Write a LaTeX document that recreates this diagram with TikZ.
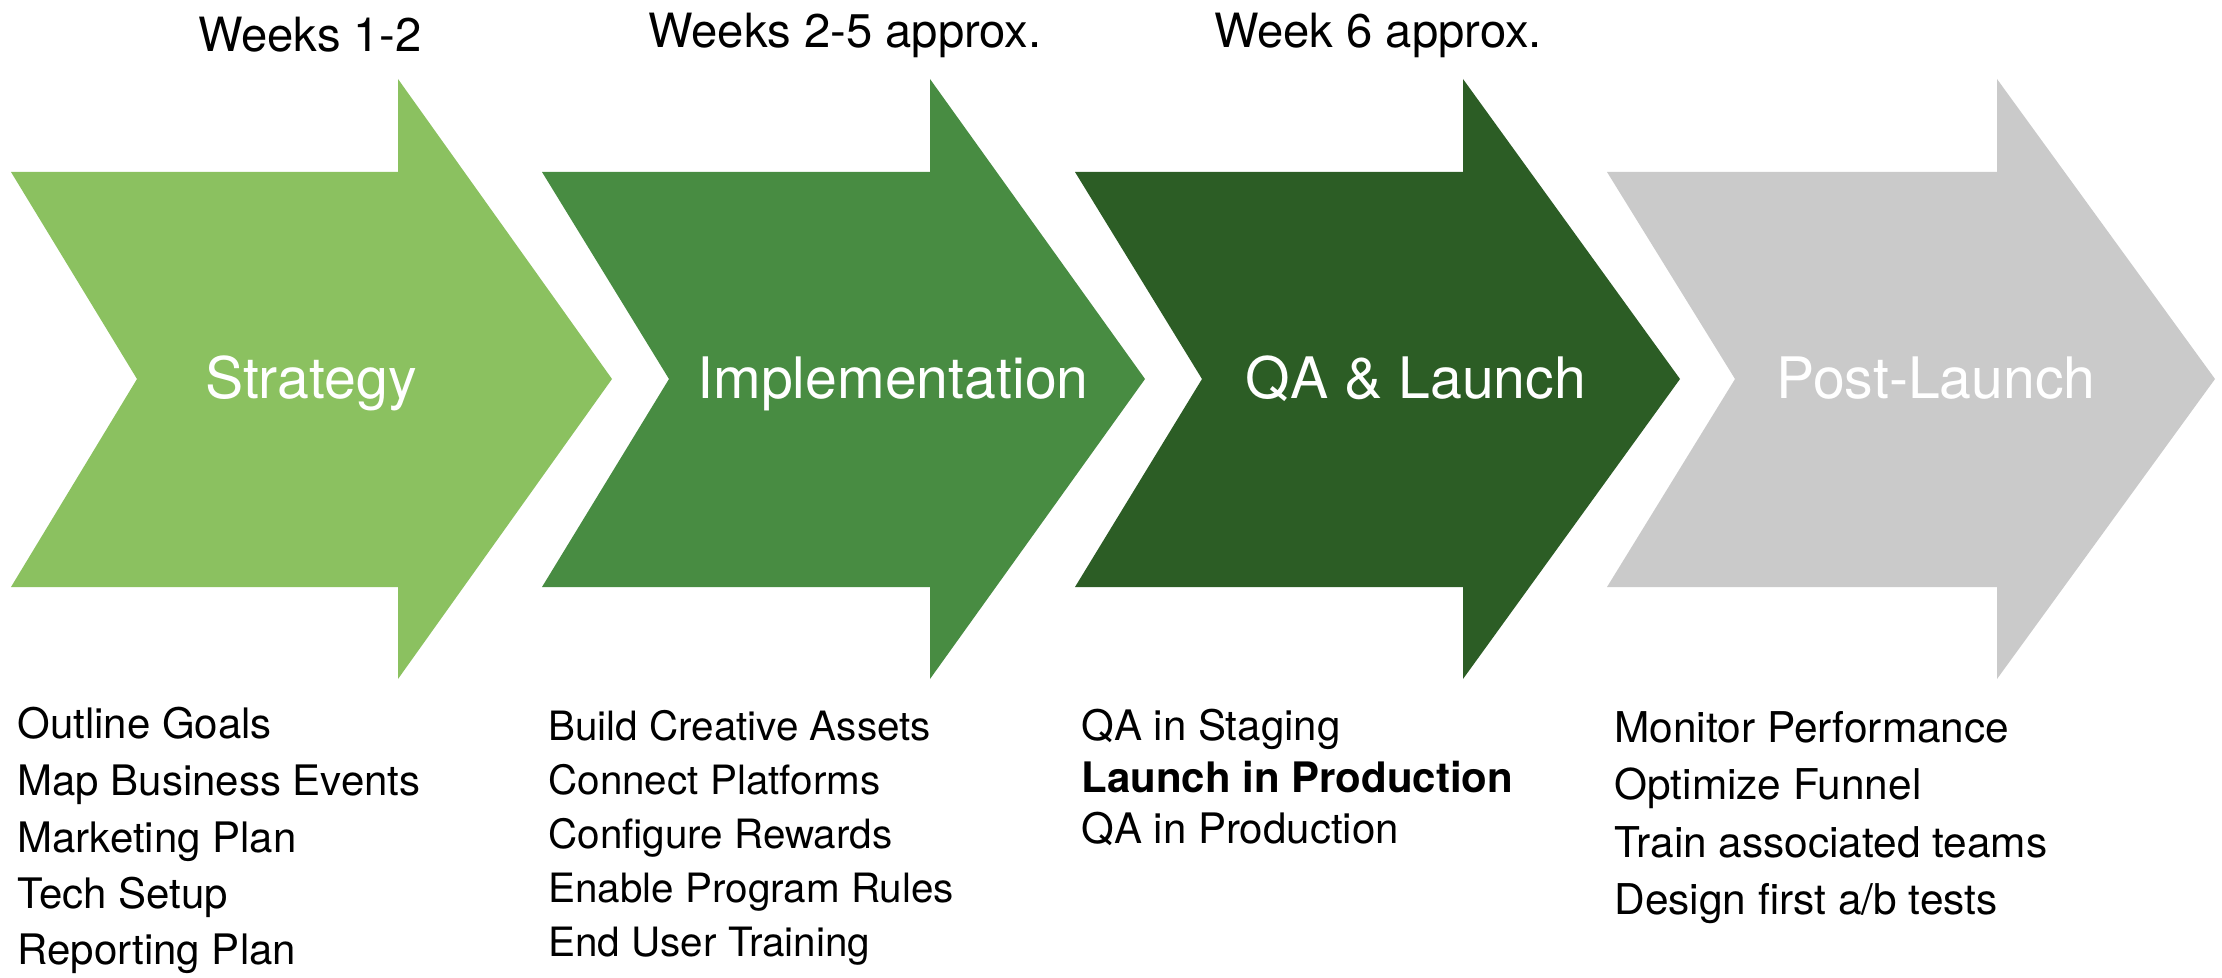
\documentclass[tikz,border=0pt]{standalone}
\usepackage{fontspec}
\setmainfont{TeX Gyre Heros}
\definecolor{stratgreen}{HTML}{8BC160}
\definecolor{implgreen}{HTML}{488C42}
\definecolor{qagreen}{HTML}{2C5D25}
\definecolor{postgray}{HTML}{CACACA}
\begin{document}
\begin{tikzpicture}[x=0.5pt, y=-0.5pt]
    \useasboundingbox (0,0) rectangle (2222,978);
    \begin{scope}
        \tikzset{phase label/.style={anchor=base, text=white, inner sep=0pt, font=\fontsize{28.6}{34}\selectfont},
                 week label/.style={anchor=base, inner sep=0pt, font=\fontsize{23.6}{28}\selectfont},
                 task/.style={anchor=base west, inner sep=0pt, font=\fontsize{21}{25}\selectfont}}
        % Draw the phase arrows
        \fill [stratgreen] (11,172) -- ++(387,0) -- ++(0,-93) -- ++(214,300) -- ++(-214,300) -- ++(0,-92) -- ++(-387,0) -- ++(126,-208) -- cycle;
        \fill [implgreen] (542,172) -- ++(388,0) -- ++(0,-93) -- ++(215,300) -- ++(-215,300) -- ++(0,-92) -- ++(-388,0) -- ++(127,-208) -- cycle;
        \fill [qagreen] (1075,172) -- ++(388,0) -- ++(0,-93) -- ++(217,300) -- ++(-217,300) -- ++(0,-92) -- ++(-388,0) -- ++(127,-208) -- cycle;
        \fill [postgray] (1607,172) -- ++(390,0) -- ++(0,-93) -- ++(218,300) -- ++(-218,300) -- ++(0,-92) -- ++(-390,0) -- ++(128,-208) -- cycle;

        % Label the phases
        \node [phase label] (strategy) at (311,399) {Strategy};
        \node [phase label] (impl) at (893,399) {Implementation};
        \node [phase label] (qa) at (1416,399) {QA \& Launch};
        \node [phase label] (post) at (1936,399) {Post-Launch};

        % Label the weeks
        \node [week label] (w12) at (310,52) {Weeks 1-2};
        \node [week label] (w25) at (845,48) {Weeks 2-5 approx.};
        \node [week label] (w6) at (1378,48) {Week 6 approx.};

        % Tasks of each phase
        \node [task] (s1) at (17,738) {Outline Goals};
        \node [task] (s2) at (17,795) {Map Business Events};
        \node [task] (s3) at (17,852) {Marketing Plan};
        \node [task] (s4) at (17,908) {Tech Setup};
        \node [task] (s5) at (17,964) {Reporting Plan};

        \node [task, font=\fontsize{20.2}{24}\selectfont] (i1) at (548,740) {Build Creative Assets};
        \node [task, font=\fontsize{20.2}{24}\selectfont] (i2) at (548,794) {Connect Platforms};
        \node [task, font=\fontsize{20.2}{24}\selectfont] (i3) at (548,848) {Configure Rewards};
        \node [task, font=\fontsize{20.2}{24}\selectfont] (i4) at (548,902) {Enable Program Rules};
        \node [task, font=\fontsize{20.2}{24}\selectfont] (i5) at (548,956) {End User Training};

        \node [task] (q1) at (1081,740) {QA in Staging};
        \node [task, font=\fontsize{21}{25}\selectfont\bfseries] (q2) at (1081,792) {Launch in Production};
        \node [task] (q3) at (1081,843) {QA in Production};

        \node [task, font=\fontsize{21.2}{25}\selectfont] (p1) at (1614,742) {Monitor Performance};
        \node [task, font=\fontsize{21.2}{25}\selectfont] (p2) at (1614,799) {Optimize Funnel};
        \node [task, font=\fontsize{21.2}{25}\selectfont] (p3) at (1614,857) {Train associated teams};
        \node [task, font=\fontsize{21.2}{25}\selectfont] (p4) at (1614,914) {Design first a/b tests};
    \end{scope}
\end{tikzpicture}
\end{document}
